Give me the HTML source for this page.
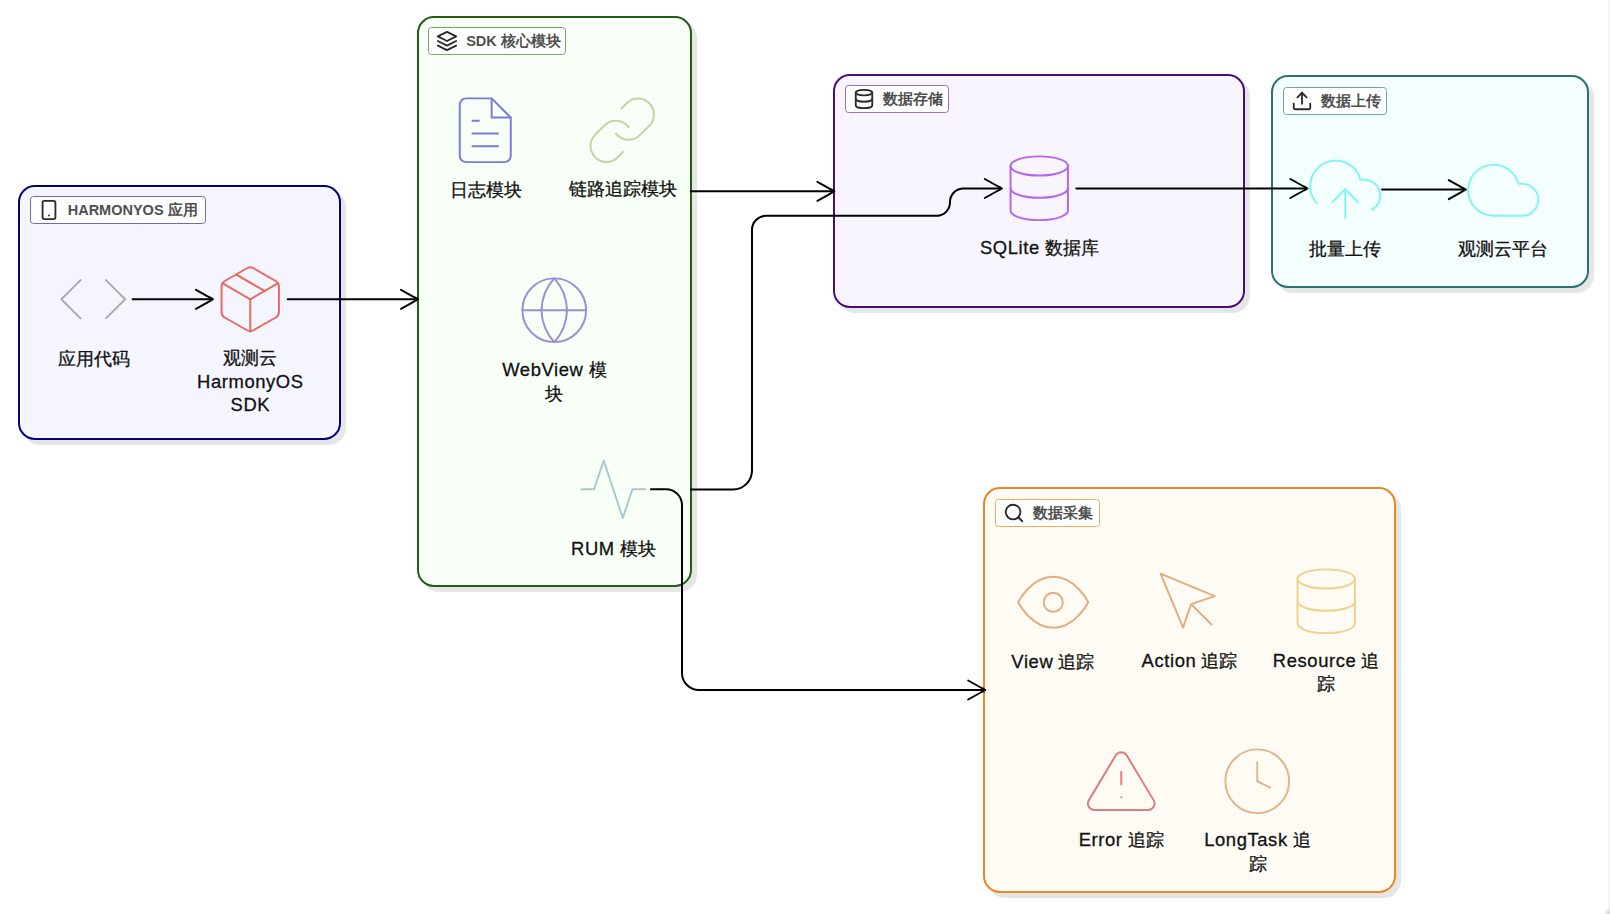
<!DOCTYPE html>
<html><head><meta charset="utf-8">
<style>
html,body{margin:0;padding:0;background:#fff;}
body{width:1610px;height:914px;position:relative;overflow:hidden;font-family:"Liberation Sans",sans-serif;}
.g{position:absolute;box-sizing:border-box;border:2px solid;border-radius:17px;box-shadow:5px 5px 0 #e6e6e6, inset 0 0 0 1px #fff;}
.b{position:absolute;box-sizing:border-box;border:1px solid;border-radius:3.5px;background:#fff;height:28px;}
.b svg{position:absolute;left:7px;top:2px;}
.b span{position:absolute;left:37px;top:0;line-height:26px;font-size:14.5px;font-weight:bold;color:#4f4f4f;white-space:nowrap;}
.ic{position:absolute;}
.lb{position:absolute;width:200px;text-align:center;font-size:18.4px;line-height:23.5px;color:#111;-webkit-text-stroke:0.3px #111;white-space:nowrap;}
.lb i{font-style:normal;letter-spacing:0.6px;}
svg.edges{position:absolute;left:0;top:0;}
</style></head><body>

<div class="g" style="left:18px;top:184.5px;width:323px;height:255.5px;border-color:#000080;background:#f4f5fe"></div>
<div class="g" style="left:416.5px;top:15.8px;width:275.5px;height:571.7px;border-color:#1f5f12;background:#f7fff6"></div>
<div class="g" style="left:833px;top:73.5px;width:412px;height:234.2px;border-color:#4b0a80;background:#f9f5fe"></div>
<div class="g" style="left:1271px;top:75px;width:318px;height:213px;border-color:#267373;background:#f5fefe"></div>
<div class="g" style="left:983.2px;top:487px;width:412.8px;height:406px;border-color:#ec8620;background:#fefaf4"></div>
<div class="b" style="left:29.7px;top:196.0px;width:176px;border-color:#6b6bbd"><svg width="22" height="22" viewBox="0 0 24 24" fill="none" stroke="#2a2a2a" stroke-width="2" stroke-linecap="round" stroke-linejoin="round"><rect x="5" y="2" width="14" height="20" rx="2" ry="2"/><line x1="12" y1="18" x2="12.01" y2="18"/></svg><span>HARMONYOS 应用</span></div>
<div class="b" style="left:428.2px;top:27.3px;width:138px;border-color:#73a866"><svg width="22" height="22" viewBox="0 0 24 24" fill="none" stroke="#2a2a2a" stroke-width="2" stroke-linecap="round" stroke-linejoin="round"><polygon points="12 2 2 7 12 12 22 7 12 2"/><polyline points="2 17 12 22 22 17"/><polyline points="2 12 12 17 22 12"/></svg><span>SDK 核心模块</span></div>
<div class="b" style="left:844.7px;top:85.0px;width:104.5px;border-color:#9a70c8"><svg width="22" height="22" viewBox="0 0 24 24" fill="none" stroke="#2a2a2a" stroke-width="2" stroke-linecap="round" stroke-linejoin="round"><ellipse cx="12" cy="5" rx="9" ry="3"/><path d="M21 12c0 1.66-4 3-9 3s-9-1.34-9-3"/><path d="M3 5v14c0 1.66 4 3 9 3s9-1.34 9-3V5"/></svg><span>数据存储</span></div>
<div class="b" style="left:1282.7px;top:86.5px;width:104px;border-color:#6aa6a6"><svg width="22" height="22" viewBox="0 0 24 24" fill="none" stroke="#2a2a2a" stroke-width="2" stroke-linecap="round" stroke-linejoin="round"><path d="M21 15v4a2 2 0 0 1-2 2H5a2 2 0 0 1-2-2v-4"/><polyline points="17 8 12 3 7 8"/><line x1="12" y1="3" x2="12" y2="15"/></svg><span>数据上传</span></div>
<div class="b" style="left:994.9000000000001px;top:498.5px;width:105px;border-color:#f0aa60"><svg width="22" height="22" viewBox="0 0 24 24" fill="none" stroke="#2a2a2a" stroke-width="2" stroke-linecap="round" stroke-linejoin="round"><circle cx="11" cy="11" r="8"/><line x1="21" y1="21" x2="16.65" y2="16.65"/></svg><span>数据采集</span></div>
<svg class="edges" width="1610" height="914" viewBox="0 0 1610 914" fill="none" stroke="#000" stroke-width="2" stroke-linecap="round" stroke-linejoin="round"><path d="M132.6 299.3 H213"/><path d="M287.7 299.3 H418"/><path d="M690.7 191.3 H834.4"/><path d="M690.9 489.4 H733 A19 19 0 0 0 752 470.4 V230 A14 14 0 0 1 766 215.8 H937 A13.5 13.5 0 0 0 950 202 A13.5 13.5 0 0 1 962.5 188.5 H1001.8"/><path d="M1076.3 188.5 H1307.4"/><path d="M1382 189.6 H1465.8"/><path d="M650.9 489.2 H666 A16 16 0 0 1 682 505.2 V673 A17 17 0 0 0 699 690 H985.2"/><path d="M196.00 289.80 L209.40 297.30 Q215.00 299.30 209.40 301.30 L196.00 308.80"/><path d="M401.00 289.80 L414.40 297.30 Q420.00 299.30 414.40 301.30 L401.00 308.80"/><path d="M817.40 181.80 L830.80 189.30 Q836.40 191.30 830.80 193.30 L817.40 200.80"/><path d="M984.80 179.00 L998.20 186.50 Q1003.80 188.50 998.20 190.50 L984.80 198.00"/><path d="M1290.40 179.00 L1303.80 186.50 Q1309.40 188.50 1303.80 190.50 L1290.40 198.00"/><path d="M1448.80 180.10 L1462.20 187.60 Q1467.80 189.60 1462.20 191.60 L1448.80 199.10"/><path d="M968.20 680.50 L981.60 688.00 Q987.20 690.00 981.60 692.00 L968.20 699.50"/></svg>
<svg class="ic" style="left:55.40px;top:261.05px" width="76.5" height="76.5" viewBox="0 0 24 24" fill="none" stroke="#ababab" stroke-width="0.62" stroke-linecap="round" stroke-linejoin="round"><polyline points="16 18 22 12 16 6"/><polyline points="8 6 2 12 8 18"/></svg>
<div class="lb" style="left:-6.35px;top:346.55px">应用代码</div>
<svg class="ic" style="left:212.10px;top:260.95px" width="76.5" height="76.5" viewBox="0 0 24 24" fill="none" stroke="#e86a5f" stroke-width="0.62" stroke-linecap="round" stroke-linejoin="round"><line x1="16.5" y1="9.4" x2="7.5" y2="4.21"/><path d="M21 16V8a2 2 0 0 0-1-1.73l-7-4a2 2 0 0 0-2 0l-7 4A2 2 0 0 0 3 8v8a2 2 0 0 0 1 1.73l7 4a2 2 0 0 0 2 0l7-4A2 2 0 0 0 21 16z"/><polyline points="3.27 6.96 12 12.01 20.73 6.96"/><line x1="12" y1="22.08" x2="12" y2="12"/></svg>
<div class="lb" style="left:150.35px;top:346.45px">观测云<br><i>HarmonyOS</i><br><i>SDK</i></div>
<svg class="ic" style="left:447.25px;top:92.25px" width="76.5" height="76.5" viewBox="0 0 24 24" fill="none" stroke="#7a7ade" stroke-width="0.62" stroke-linecap="round" stroke-linejoin="round"><path d="M14 2H6a2 2 0 0 0-2 2v16a2 2 0 0 0 2 2h12a2 2 0 0 0 2-2V8z"/><polyline points="14 2 14 8 20 8"/><line x1="16" y1="13" x2="8" y2="13"/><line x1="16" y1="17" x2="8" y2="17"/><polyline points="10 9 9 9 8 9"/></svg>
<div class="lb" style="left:385.50px;top:177.75px">日志模块</div>
<svg class="ic" style="left:584.35px;top:91.85px" width="76.5" height="76.5" viewBox="0 0 24 24" fill="none" stroke="#c5d3a2" stroke-width="0.62" stroke-linecap="round" stroke-linejoin="round"><path d="M10 13a5 5 0 0 0 7.54.54l3-3a5 5 0 0 0-7.07-7.07l-1.72 1.71"/><path d="M14 11a5 5 0 0 0-7.54-.54l-3 3a5 5 0 0 0 7.07 7.07l1.71-1.71"/></svg>
<div class="lb" style="left:522.60px;top:177.35px">链路追踪模块</div>
<svg class="ic" style="left:516.15px;top:271.75px" width="76.5" height="76.5" viewBox="0 0 24 24" fill="none" stroke="#9b90d2" stroke-width="0.62" stroke-linecap="round" stroke-linejoin="round"><circle cx="12" cy="12" r="10"/><line x1="2" y1="12" x2="22" y2="12"/><path d="M12 2a15.3 15.3 0 0 1 4 10 15.3 15.3 0 0 1-4 10 15.3 15.3 0 0 1-4-10 15.3 15.3 0 0 1 4-10z"/></svg>
<div class="lb" style="left:454.40px;top:358.25px"><i>WebView</i> 模<br>块</div>
<svg class="ic" style="left:575.25px;top:450.75px" width="76.5" height="76.5" viewBox="0 0 24 24" fill="none" stroke="#a9c9cc" stroke-width="0.62" stroke-linecap="round" stroke-linejoin="round"><polyline points="22 12 18 12 15 21 9 3 6 12 2 12"/></svg>
<div class="lb" style="left:513.50px;top:537.45px"><i>RUM</i> 模块</div>
<svg class="ic" style="left:1001.15px;top:150.15px" width="76.5" height="76.5" viewBox="0 0 24 24" fill="none" stroke="#b466f2" stroke-width="0.62" stroke-linecap="round" stroke-linejoin="round"><ellipse cx="12" cy="5" rx="9" ry="3"/><path d="M21 12c0 1.66-4 3-9 3s-9-1.34-9-3"/><path d="M3 5v14c0 1.66 4 3 9 3s9-1.34 9-3V5"/></svg>
<div class="lb" style="left:939.40px;top:235.65px"><i>SQLite</i> 数据库</div>
<svg class="ic" style="left:1306.65px;top:151.35px" width="76.5" height="76.5" viewBox="0 0 24 24" fill="none" stroke="#82f4f8" stroke-width="0.62" stroke-linecap="round" stroke-linejoin="round"><polyline points="16 16 12 12 8 16"/><line x1="12" y1="12" x2="12" y2="21"/><path d="M20.39 18.39A5 5 0 0 0 18 9h-1.26A8 8 0 1 0 3 16.3"/></svg>
<div class="lb" style="left:1244.90px;top:236.85px">批量上传</div>
<svg class="ic" style="left:1464.75px;top:151.60px" width="76.5" height="76.5" viewBox="0 0 24 24" fill="none" stroke="#82f4f8" stroke-width="0.62" stroke-linecap="round" stroke-linejoin="round"><path d="M18 10h-1.26A8 8 0 1 0 9 20h9a5 5 0 0 0 0-10z"/></svg>
<div class="lb" style="left:1403.00px;top:237.10px">观测云平台</div>
<svg class="ic" style="left:1014.65px;top:564.05px" width="76.5" height="76.5" viewBox="0 0 24 24" fill="none" stroke="#e2ae80" stroke-width="0.62" stroke-linecap="round" stroke-linejoin="round"><path d="M1 12s4-8 11-8 11 8 11 8-4 8-11 8-11-8-11-8z"/><circle cx="12" cy="12" r="3"/></svg>
<div class="lb" style="left:952.90px;top:649.55px"><i>View</i> 追踪</div>
<svg class="ic" style="left:1151.25px;top:563.75px" width="76.5" height="76.5" viewBox="0 0 24 24" fill="none" stroke="#e2ae80" stroke-width="0.62" stroke-linecap="round" stroke-linejoin="round"><path d="M3 3l7.07 16.97 2.51-7.39 7.39-2.51L3 3z"/><path d="M13 13l6 6"/></svg>
<div class="lb" style="left:1089.50px;top:649.25px"><i>Action</i> 追踪</div>
<svg class="ic" style="left:1287.95px;top:563.15px" width="76.5" height="76.5" viewBox="0 0 24 24" fill="none" stroke="#eed38a" stroke-width="0.62" stroke-linecap="round" stroke-linejoin="round"><ellipse cx="12" cy="5" rx="9" ry="3"/><path d="M21 12c0 1.66-4 3-9 3s-9-1.34-9-3"/><path d="M3 5v14c0 1.66 4 3 9 3s9-1.34 9-3V5"/></svg>
<div class="lb" style="left:1226.20px;top:648.65px"><i>Resource</i> 追<br>踪</div>
<svg class="ic" style="left:1082.95px;top:742.75px" width="76.5" height="76.5" viewBox="0 0 24 24" fill="none" stroke="#dc7e7e" stroke-width="0.62" stroke-linecap="round" stroke-linejoin="round"><path d="M10.29 3.86L1.82 18a2 2 0 0 0 1.71 3h16.94a2 2 0 0 0 1.71-3L13.71 3.86a2 2 0 0 0-3.42 0z"/><line x1="12" y1="9" x2="12" y2="13"/><line x1="12" y1="17" x2="12.01" y2="17"/></svg>
<div class="lb" style="left:1021.20px;top:828.25px"><i>Error</i> 追踪</div>
<svg class="ic" style="left:1219.25px;top:742.85px" width="76.5" height="76.5" viewBox="0 0 24 24" fill="none" stroke="#dcb88c" stroke-width="0.62" stroke-linecap="round" stroke-linejoin="round"><circle cx="12" cy="12" r="10"/><polyline points="12 6 12 12 16 14"/></svg>
<div class="lb" style="left:1157.50px;top:828.35px"><i>LongTask</i> 追<br>踪</div>
<div style="position:absolute;left:1608px;top:0;width:2px;height:914px;background:linear-gradient(to right,#fafafa,#f1f2f2)"></div>
<div style="position:absolute;left:1605px;top:907px;width:5px;height:7px;background:radial-gradient(circle at 100% 100%,#cfcfcf 0,#e6e6e6 40%,rgba(255,255,255,0) 80%)"></div>
</body></html>
